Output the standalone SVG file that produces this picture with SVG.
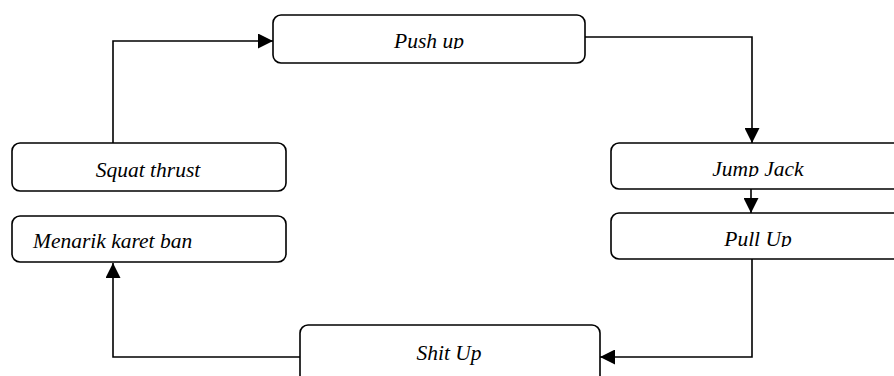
<svg xmlns="http://www.w3.org/2000/svg" width="894" height="376" viewBox="0 0 894 376">
<style>
.box{fill:#fff;stroke:#000;stroke-width:1.6}
.t{font-family:"Liberation Serif","Times New Roman",serif;font-style:italic;font-size:21.5px;fill:#000}
.c{fill:none;stroke:#000;stroke-width:1.6}
</style>
<defs>
<marker id="ah" markerUnits="userSpaceOnUse" markerWidth="15" markerHeight="15" refX="15" refY="7.5" orient="auto">
<path d="M0,0 L15,7.5 L0,15 z" fill="#000"/>
</marker>
<clipPath id="cp1"><rect x="273" y="15" width="312" height="34"/></clipPath>
<clipPath id="cp2"><rect x="611" y="143" width="290" height="34"/></clipPath>
<clipPath id="cp3"><rect x="611" y="213" width="290" height="34"/></clipPath>
</defs>
<g id="connectors">
<path class="c" d="M113,143 V41 H273" marker-end="url(#ah)"/>
<path class="c" d="M585,37 H752 V143" marker-end="url(#ah)"/>
<path class="c" d="M751,189 V213" marker-end="url(#ah)"/>
<path class="c" d="M752,259 V357 H600" marker-end="url(#ah)"/>
<path class="c" d="M300,357 H113 V263" marker-end="url(#ah)"/>
</g>
<g id="push-up">
<rect class="box" x="273" y="15" width="312" height="48" rx="8"/>
<text class="t" x="429" y="48" text-anchor="middle" clip-path="url(#cp1)">Push up</text>
</g>
<g id="squat-thrust">
<rect class="box" x="12" y="143" width="274" height="48" rx="8"/>
<text class="t" x="148" y="177" text-anchor="middle">Squat thrust</text>
</g>
<g id="menarik">
<rect class="box" x="12" y="216" width="274" height="46" rx="8"/>
<text class="t" x="33" y="248">Menarik karet ban</text>
</g>
<g id="jump-jack">
<rect class="box" x="611" y="143" width="300" height="46" rx="8"/>
<text class="t" x="758" y="176" text-anchor="middle" clip-path="url(#cp2)">Jump Jack</text>
</g>
<g id="pull-up">
<rect class="box" x="611" y="213" width="300" height="46" rx="8"/>
<text class="t" x="758" y="246" text-anchor="middle" clip-path="url(#cp3)">Pull Up</text>
</g>
<g id="shit-up">
<rect class="box" x="300" y="325" width="300" height="70" rx="8"/>
<text class="t" x="449" y="360" text-anchor="middle">Shit Up</text>
</g>
</svg>
